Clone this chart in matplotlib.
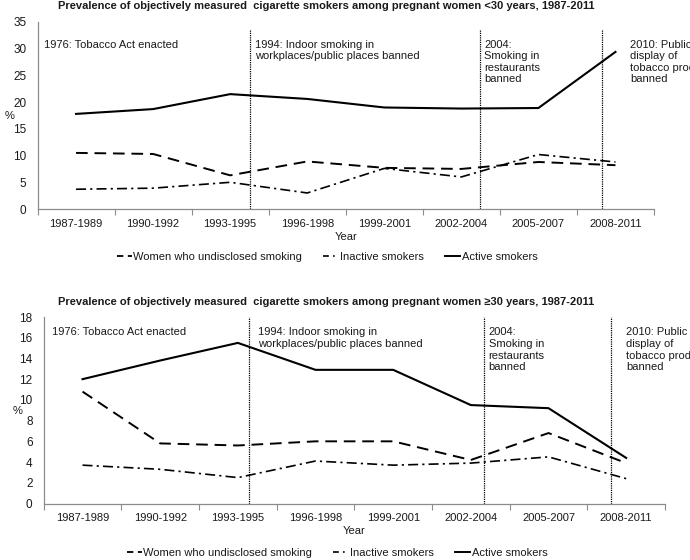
import matplotlib
matplotlib.use("Agg")
import matplotlib.pyplot as plt
from matplotlib.lines import Line2D
import numpy as np

plt.rcParams['font.family'] = ['Liberation Sans', 'DejaVu Sans']

categories = ["1987-1989", "1990-1992", "1993-1995", "1996-1998",
              "1999-2001", "2002-2004", "2005-2007", "2008-2011"]

# Pregnant women <30 years
young_undisclosed = [10.5, 10.3, 6.3, 8.9, 7.7, 7.5, 8.8, 8.2]
young_inactive = [3.7, 3.9, 5.0, 3.0, 7.6, 6.0, 10.2, 8.8]
young_active = [17.8, 18.7, 21.5, 20.6, 19.0, 18.8, 18.9, 29.4]

# Pregnant women >=30 years
old_undisclosed = [10.8, 5.8, 5.6, 6.0, 6.0, 4.2, 6.8, 3.9]
old_inactive = [3.7, 3.3, 2.5, 4.1, 3.7, 3.9, 4.5, 2.4]
old_active = [12.0, 13.8, 15.5, 12.9, 12.9, 9.5, 9.2, 4.4]

titles = ["Prevalence of objectively measured  cigarette smokers among pregnant women <30 years, 1987-2011",
          "Prevalence of objectively measured  cigarette smokers among pregnant women \u226530 years, 1987-2011"]
legend_labels = ["Women who undisclosed smoking", "Inactive smokers", "Active smokers"]
event_texts = ["1976: Tobacco Act enacted",
               "1994: Indoor smoking in\nworkplaces/public places banned",
               "2004:\nSmoking in\nrestaurants\nbanned",
               "2010: Public\ndisplay of\ntobacco products\nbanned"]

W, H = 690, 560
fig = plt.figure(figsize=(W / 100, H / 100), dpi=100)

TXT = '#1a1a1a'
AX = '#8c8c8c'

def px_ax(left, right, top, bottom):
    return [left / W, 1 - bottom / H, (right - left) / W, (bottom - top) / H]

specs = [
    dict(rect=px_ax(37.5, 654, 22, 209), ylim=35, yticks=np.arange(0, 36, 5),
         data=(young_undisclosed, young_inactive, young_active),
         vlines=[2.26, 5.24, 6.82], vtop=33.5,
         text_x=[-0.42, 2.32, 5.30, 7.19], text_y=31.7,
         title_y=6, leg_y=257, leg_x=327, pct=(5, 116)),
    dict(rect=px_ax(43.7, 665, 317, 503.5), ylim=18, yticks=np.arange(0, 19, 2),
         data=(old_undisclosed, old_inactive, old_active),
         vlines=[2.14, 5.17, 6.81], vtop=18,
         text_x=[-0.39, 2.26, 5.23, 7.0], text_y=17.0,
         title_y=302, leg_y=553, leg_x=337, pct=(13, 411)),
]

handles = [Line2D([], [], color='black', lw=1.3, dashes=(3.5, 2.5)),
           Line2D([], [], color='black', lw=1.2, dashes=(3.5, 2.5, 1, 2.5)),
           Line2D([], [], color='black', lw=1.4)]

x = np.arange(len(categories))
for i, s in enumerate(specs):
    ax = fig.add_axes(s['rect'])
    und, ina, act = s['data']
    ax.plot(x, und, color='black', lw=1.4, dashes=(6, 3.5))
    ax.plot(x, ina, color='black', lw=1.2, dashes=(6, 2.5, 1.3, 2.5))
    ax.plot(x, act, color='black', lw=1.5)
    for v in s['vlines']:
        ax.plot([v, v], [0, s['vtop']], color='black', lw=0.9, dashes=(1, 0.8))
    ax.set_xlim(-0.5, len(categories) - 0.5)
    ax.set_ylim(0, s['ylim'])
    ax.set_yticks(s['yticks'])
    ax.set_xticks(x)
    ax.set_xticklabels(categories)
    ax.set_xticks(np.arange(-0.5, len(categories)), minor=True)
    ax.tick_params(axis='x', which='major', length=0, pad=7, labelsize=8, labelcolor=TXT)
    ax.tick_params(axis='x', which='minor', length=4, color=AX, width=0.8)
    ax.tick_params(axis='y', length=0, pad=8, labelsize=8.5, labelcolor=TXT)
    for sp in ['top', 'right']:
        ax.spines[sp].set_visible(False)
    for sp in ['left', 'bottom']:
        ax.spines[sp].set_color(AX)
        ax.spines[sp].set_linewidth(0.9)
    ax.set_xlabel("Year", fontsize=8, color=TXT, labelpad=2)
    fig.text(s['pct'][0] / W, 1 - s['pct'][1] / H, "%", fontsize=8, color=TXT,
             ha='left', va='center')
    for tx, t in zip(s['text_x'], event_texts):
        ax.text(tx, s['text_y'], t, fontsize=8, color=TXT, ha='left', va='top',
                linespacing=1.2, clip_on=False)
    fig.text(326 / W, 1 - s['title_y'] / H, titles[i], fontsize=8,
             fontweight='bold', color=TXT, ha='center', va='center')
    fig.legend(handles, legend_labels, loc='center',
               bbox_to_anchor=(s['leg_x'] / W, 1 - s['leg_y'] / H), ncol=3,
               frameon=False, fontsize=8, handlelength=1.35, handletextpad=0.15,
               columnspacing=1.9, labelcolor=TXT, borderpad=0)

fig.savefig("out.png", dpi=100)
